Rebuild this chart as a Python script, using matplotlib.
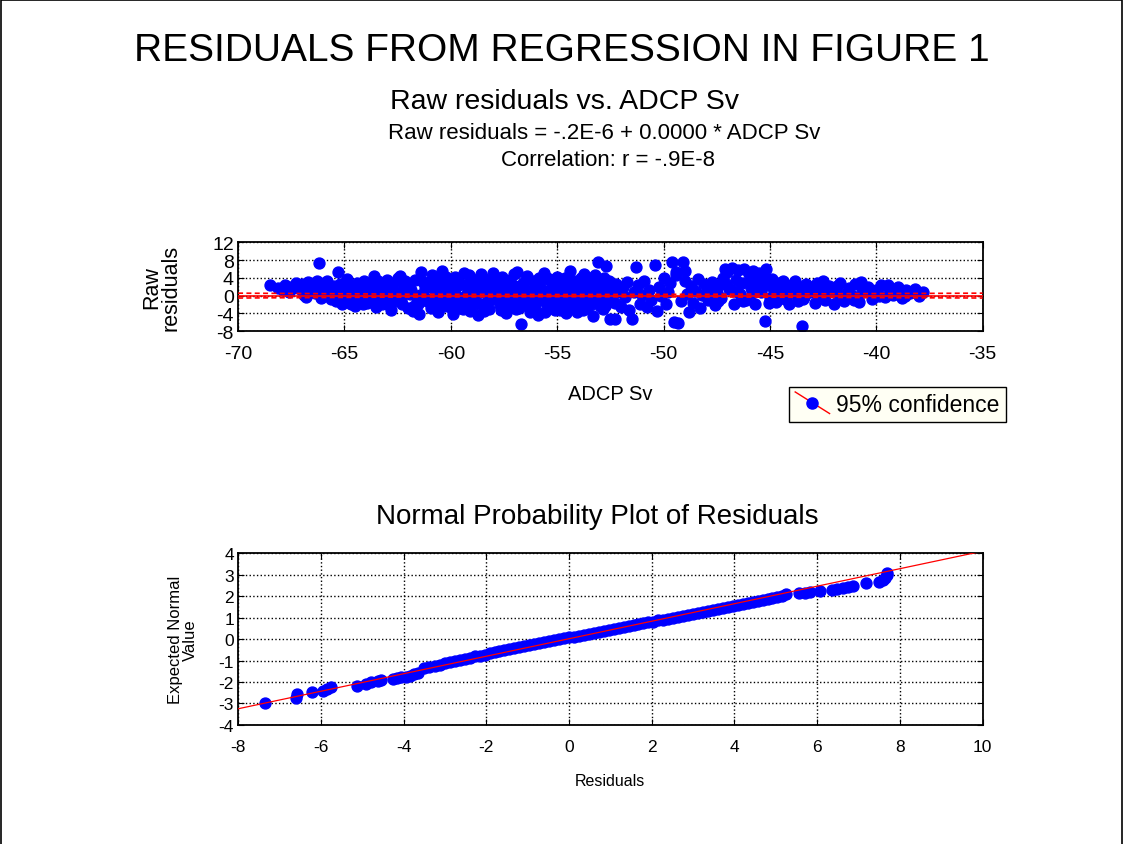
import matplotlib
matplotlib.use('Agg')
import matplotlib.pyplot as plt
from matplotlib.lines import Line2D
from matplotlib.legend_handler import HandlerBase

plt.rcParams['font.family'] = ['Liberation Sans', 'DejaVu Sans']
plt.rcParams['axes.unicode_minus'] = False

# Raw residuals vs. ADCP Sv
sv = [-68.5, -68.1, -67.8, -67.6, -67.3, -67.1, -66.9, -66.7, -66.5, -66.3, -66.2, -66.1, -66.0, -66.4, -66.8, -67.4,
      -65.8, -65.6, -65.4, -65.3, -65.2, -65.0, -64.9, -64.7, -64.6, -64.4, -64.3, -64.1, -65.7, -65.1, -64.8, -64.5, -64.2, -65.5, -64.0, -64.9,
      -63.8, -63.6, -63.5, -63.3, -63.1, -63.0, -62.8, -62.7, -62.5, -62.3, -62.2, -62.0, -61.9, -61.7, -61.5, -61.4, -61.2, -61.1,
      -63.7, -63.2, -62.9, -62.6, -62.1, -61.8, -61.3, -63.4, -62.4, -61.6,
      -60.9, -60.8, -60.7, -60.6, -60.5, -60.4, -60.3, -60.2, -60.1, -60.0, -59.9, -59.8, -59.7, -59.6, -59.5, -59.4,
      -59.3, -59.2, -59.1, -59.0, -58.9, -58.8, -58.7, -58.6, -58.5, -58.4, -58.3, -58.2, -58.1, -58.0, -57.9, -57.8,
      -57.7, -57.6, -57.5, -57.4, -57.3, -57.2, -57.1, -57.0, -56.9, -56.8, -56.7, -56.6, -56.5, -56.4, -56.3, -56.2,
      -56.1, -56.0, -55.9, -55.8, -55.7, -55.6, -55.5, -55.4, -55.3, -55.2, -55.1, -55.0, -54.9, -54.8, -54.7, -54.6,
      -54.5, -54.4, -54.3, -54.2, -54.1, -54.0, -53.9, -53.8, -53.7, -53.6, -53.5, -53.4, -53.3, -53.2, -53.1, -53.0,
      -52.9, -52.8, -52.7, -52.6, -52.5, -52.4, -52.3, -52.2,
      -60.85, -60.65, -60.35, -60.05, -59.75, -59.45, -59.15, -58.85, -58.55, -58.25, -57.95, -57.65, -57.35, -57.05,
      -56.75, -56.45, -56.15, -55.85, -55.55, -55.25, -54.95, -54.65, -54.35, -54.05, -53.75, -53.45, -53.15, -52.85,
      -52.55, -60.55, -59.85, -59.25, -58.45, -57.75, -57.15, -56.55, -55.95, -55.35, -54.75, -54.15, -53.55, -52.95,
      -65.9, -65.65, -65.35, -65.05, -64.75, -64.45, -64.15, -63.85, -63.55, -63.25, -62.95, -62.65, -62.35, -62.05,
      -61.75, -61.45, -61.15, -60.95, -60.75, -60.45, -60.15, -59.95, -59.65, -59.35, -59.05, -58.75, -58.35, -58.05,
      -57.85, -57.55, -57.25, -56.95, -56.65, -56.35, -56.05, -55.75, -55.45, -55.15, -54.85, -54.55, -54.25, -53.95,
      -53.65, -53.35, -53.05, -52.75, -52.45,
      -63.95, -63.65, -63.35, -63.05, -62.75, -62.45, -62.15, -61.85, -61.55, -61.25, -60.98, -60.72, -60.48, -60.22,
      -59.98, -59.72, -59.48, -59.22, -58.98, -58.72, -58.48, -58.22, -57.98, -57.72, -57.48, -57.22, -56.98, -56.72,
      -56.48, -56.22, -55.98, -55.72, -55.48, -55.22, -54.98, -54.72, -54.48, -54.22, -53.98, -53.72, -53.48, -53.22,
      -52.98, -52.72, -52.48, -52.22,
      -67.9, -67.5, -67.0, -66.6, -66.25, -65.95, -65.45, -64.85, -64.35,
      -52.0, -51.9, -51.8, -51.7, -51.6, -51.5, -51.4, -51.3, -51.2, -51.1, -51.0, -50.9, -50.8, -50.7, -50.6, -50.4,
      -50.3, -50.2, -50.1, -50.0, -49.9, -49.8, -49.7, -49.6, -49.5, -49.4, -49.3, -49.2, -49.1, -49.0, -48.9, -48.8,
      -48.7, -48.6, -48.5, -48.4, -48.3, -48.2, -48.1, -52.3, -49.4, -49.0,
      -47.9, -47.8, -47.7, -47.6, -47.5, -47.4, -47.3, -47.1, -47.0, -46.9, -46.8, -46.7, -46.6, -46.5, -46.4, -46.3,
      -46.2, -46.1, -46.0, -45.9, -45.8, -45.7, -45.6, -45.5, -45.4, -45.25, -45.2, -45.1, -45.0, -44.9, -44.8, -44.7,
      -44.6, -44.5, -44.4, -44.3, -44.2, -44.1, -44.0, -47.2, -46.0, -45.3,
      -47.85, -47.45, -47.05, -46.65, -46.25, -45.85, -45.45, -45.05, -44.65, -44.25,
      -43.9, -43.8, -43.7, -43.6, -43.5, -43.4, -43.3, -43.1, -42.9, -42.7, -42.5, -42.4, -42.2, -42.0, -41.9, -41.7,
      -41.5, -41.3, -41.1, -41.0, -40.8, -40.6, -40.4, -40.2, -40.0, -39.8, -39.6, -39.4, -39.2, -39.0, -38.8, -38.6,
      -38.4, -38.2, -38.0, -37.8, -42.8, -41.6, -40.7, -39.9,
      -43.85, -43.45, -43.05, -42.65, -42.25, -41.85, -41.45, -41.05, -40.65, -40.25, -39.85, -39.45, -39.05, -38.65,
      -38.25]
raw_resid = [2.5, 1.6, 2.3, 0.9, 2.8, 1.4, 0.2, 3.1, 1.9, 3.4, 7.4, -0.6, 2.2, 0.6, -0.3, 1.8,
             3.3, 1.0, -1.2, 5.3, 2.6, 0.3, 3.7, -1.8, 1.7, 2.9, -0.7, 3.2, -0.2, -2.0, 0.9, -2.4, 1.3, 2.1, -1.5, 2.0,
             0.6, 4.4, -2.6, 2.2, -0.8, 3.5, -3.2, 1.1, 3.9, -1.9, 2.5, -2.9, 0.4, 3.6, -4.2, 5.3, 1.6, -1.3,
             -1.2, 1.0, -2.1, -0.2, 0.9, -3.5, 3.0, 3.3, 4.4, -0.5,
             4.6, -1.5, 2.1, -3.8, 0.4, 5.5, -2.4, 3.1, -0.9, 1.8, -4.1, 4.2, 0.0, -2.8, 2.7, 5.2,
             -1.2, 1.0, -3.4, 3.8, -0.3, 2.2, -4.4, 4.9, 0.8, -1.9, 3.3, -3.0, 1.5, 5.0, -0.7, 2.6,
             -2.2, 4.1, 0.2, -3.9, 1.9, 3.6, -1.4, 0.7, 5.4, -2.7, -6.4, 2.9, -0.4, 4.5, -3.6, 1.2,
             3.2, -1.0, -4.3, 2.4, 0.5, 5.1, -2.0, 3.7, -0.6, 1.7, -3.2, 4.3, 0.1, -1.7, 2.8, -4.0,
             1.4, 5.6, -0.8, 3.4, -2.5, 0.9, 4.0, -3.3, 2.0, -1.1, 3.0, 0.3, -4.6, 4.7, 7.6, -2.3,
             1.6, 3.9, 6.6, -0.5, -5.3, 2.3, -1.6, 0.8,
             -0.5, 3.6, 1.2, -2.6, 2.0, -3.1, 4.6, -2.0, 2.9, 0.0, 3.7, -3.3, -0.2, 4.8,
             0.9, -2.2, -0.2, 4.0, -3.7, 2.6, -2.8, 3.9, 1.9, -3.6, 4.9, -2.1, 1.0, -3.0,
             3.4, -1.1, 0.8, 2.4, -3.5, 1.0, -2.6, 1.5, 2.2, -1.4, 0.6, -1.3, 1.3, -1.2,
             1.5, -0.8, 0.4, 2.4, -1.0, 1.1, -2.0, 2.6, 1.4, -1.8, 0.2, 2.9, -0.9, 1.7,
             -2.3, 0.1, 2.8, -2.9, 0.9, 3.5, -0.2, -1.7, 2.3, -0.6, 0.8, 3.4, -2.6, 2.4,
             0.4, -1.0, 2.8, -3.0, 1.8, 0.3, -2.6, -0.1, 1.1, 3.0, -3.3, -0.4, 2.6, -0.7,
             -2.8, 2.2, 0.6, -2.4, 1.2,
             -1.6, 2.7, -0.4, 1.3, -1.4, 0.6, 3.3, 1.2, -1.9, -0.3, 2.6, -2.7, 1.6, 4.1,
             -1.4, 3.2, -2.2, 0.4, 2.0, -1.6, 4.0, -0.8, 1.1, 3.1, -2.5, 0.0, 2.2, -1.2,
             3.5, -2.9, 1.5, -0.9, 3.9, -2.5, 2.3, -0.1, -2.6, 0.4, 1.8, -1.8, 3.9, -0.6,
             2.6, -2.0, 0.3, 2.7,
             1.2, 2.0, 2.6, 1.3, 0.9, 2.8, 0.6, 2.5, -0.9,
             -2.6, 1.9, -0.4, 3.0, -3.2, -5.3, 0.9, 6.4, 2.4, -1.8, 0.2, 3.4, -2.5, 1.3, -0.9, 7.0,
             -3.4, 2.0, -0.2, 4.0, -2.0, 0.8, 2.9, 7.5, -6.0, 5.3, -6.2, -1.2, 7.6, 3.3, 0.4, -3.6,
             2.2, -1.6, 1.0, 3.8, -2.8, 0.1, 2.6, -5.3, 4.6, 5.6,
             -1.0, 1.9, 3.1, -2.2, 0.6, 2.4, -0.5, 6.0, 5.4, 1.5, 6.3, -1.8, 3.6, 5.8, 0.3, 2.8,
             6.1, -0.9, 4.8, 1.8, 5.6, -2.0, 3.3, 5.0, 0.9, -5.7, 5.9, 2.4, -0.6, 3.7, 1.1, -1.4,
             2.9, 0.4, 3.3, -0.8, 1.7, -1.9, 2.5, 3.9, 3.1, 4.2,
             0.9, -1.2, 2.6, 1.0, -1.3, 0.5, 2.0, -1.6, 1.8, 0.3,
             0.6, 3.4, -1.2, 1.9, -6.9, -0.3, 2.7, 0.9, -1.6, 1.4, 3.3, -0.9, 2.2, -1.9, 0.5, 2.8,
             -1.2, 1.6, -0.2, 2.6, -1.5, 0.9, 2.0, -0.8, 1.3, 2.4, -0.4, 1.7, 0.2, 1.9, -0.6, 1.2,
             0.5, 1.5, 0.0, 0.8, 2.9, -0.6, 3.0, 0.4,
             2.2, -0.7, 2.0, -0.4, 0.8, 2.1, 0.3, -0.9, 1.8, 0.6, -0.2, 2.4, 0.7, -0.2,
             0.9]

# regression line and 95% confidence band
fit_sv = [-70, -35]
fit_resid = [0.0, 0.0]
band_sv = [-70, -62, -55, -48, -35]
band_upper = [0.55, 0.32, 0.25, 0.30, 0.55]
band_lower = [-0.55, -0.32, -0.25, -0.30, -0.55]

# Normal probability plot (residual, expected normal value)
npp_resid = [-7.35, -6.60, -6.58, -6.22, -5.95, -5.85, -5.75, -5.13, -4.90, -4.78, -4.62, -4.55, -4.25, -4.15,
             -4.05, -3.95, -3.85, -3.75, -3.65,
             -3.50, -3.38, -3.25, -3.12, -3.00, -2.88, -2.76, -2.64, -2.52, -2.40, -2.28, -2.16, -2.04, -1.92,
             -1.80, -1.68, -1.56, -1.44, -1.32, -1.20, -1.08, -0.96, -0.84, -0.72, -0.60, -0.48, -0.36, -0.24,
             -0.12, 0.00, 0.12, 0.24, 0.36, 0.48, 0.60, 0.72, 0.84, 0.96, 1.08, 1.20, 1.32, 1.44, 1.56, 1.68,
             1.80, 1.92, 2.04, 2.16, 2.28, 2.40, 2.52, 2.64, 2.76, 2.88, 3.00, 3.12, 3.24, 3.36, 3.48, 3.60,
             3.72, 3.84, 3.96, 4.08, 4.20, 4.32, 4.44, 4.56, 4.68, 4.80, 4.92, 5.04, 5.16,
             5.25, 5.57, 5.70, 5.82, 6.06, 6.37, 6.48, 6.62, 6.75, 6.86, 7.19, 7.50, 7.58, 7.64, 7.68, 7.70]
npp_expected = [-3.00, -2.75, -2.58, -2.47, -2.40, -2.32, -2.24, -2.17, -2.08, -2.01, -1.95, -1.90, -1.86, -1.82,
                -1.79, -1.75, -1.71, -1.62, -1.57,
                -1.36, -1.30, -1.24, -1.19, -1.13, -1.08, -1.02, -0.97, -0.91, -0.86, -0.81, -0.77, -0.72, -0.67,
                -0.62, -0.57, -0.52, -0.47, -0.42, -0.37, -0.33, -0.28, -0.23, -0.18, -0.14, -0.09, -0.05, 0.00,
                0.04, 0.08, 0.12, 0.16, 0.20, 0.25, 0.29, 0.34, 0.38, 0.43, 0.47, 0.52, 0.56, 0.60, 0.64, 0.69,
                0.73, 0.78, 0.82, 0.87, 0.91, 0.96, 0.99, 1.04, 1.08, 1.13, 1.17, 1.22, 1.26, 1.31, 1.35, 1.40,
                1.43, 1.48, 1.53, 1.57, 1.62, 1.66, 1.71, 1.76, 1.81, 1.86, 1.92, 1.98, 2.03,
                2.09, 2.14, 2.17, 2.19, 2.25, 2.30, 2.34, 2.38, 2.42, 2.47, 2.63, 2.68, 2.76, 2.87, 3.00, 3.10]
npp_line_x = [-8, 10]
npp_line_y = [-3.25, 4.10]


class DiagonalHandle(HandlerBase):
    # red line drawn corner to corner with the blue dot on it, as in the original legend
    def create_artists(self, legend, orig_handle, xdescent, ydescent, width, height, fontsize, trans):
        x0, x1 = -xdescent, width - xdescent
        y0, y1 = height - ydescent + 2, -ydescent - 2
        line = Line2D([x0, x1], [y0, y1], color='red', lw=1, transform=trans)
        dot = Line2D([(x0 + x1) / 2], [(y0 + y1) / 2], marker='o', ms=8, color='#0000ff',
                     ls='none', transform=trans)
        return [line, dot]


fig = plt.figure(figsize=(11.23, 8.45), dpi=100)

fig.text(0.5, 0.940, 'RESIDUALS FROM REGRESSION IN FIGURE 1', ha='center', va='center', fontsize=28)
fig.text(0.503, 0.879, 'Raw residuals vs. ADCP Sv', ha='center', va='center', fontsize=20.5)
fig.text(0.538, 0.842, 'Raw residuals = -.2E-6 + 0.0000 * ADCP Sv', ha='center', va='center', fontsize=16)
fig.text(0.541, 0.810, 'Correlation: r = -.9E-8', ha='center', va='center', fontsize=16)

# top panel
ax1 = fig.add_axes([0.212, 0.607, 0.663, 0.105])
ax1.scatter(sv, raw_resid, s=62, color='#0000ff', zorder=2)
ax1.plot(fit_sv, fit_resid, color='red', lw=1.2, zorder=3)
ax1.plot(band_sv, band_upper, color='red', lw=1.2, ls=(0, (3, 2)), zorder=3)
ax1.plot(band_sv, band_lower, color='red', lw=1.2, ls=(0, (3, 2)), zorder=3)
ax1.set_xlim(-70, -35)
ax1.set_ylim(-8, 12)
ax1.set_xticks([-70, -65, -60, -55, -50, -45, -40, -35])
ax1.set_yticks([-8, -4, 0, 4, 8, 12])
ax1.grid(True, color='black', ls=':', lw=1)
ax1.tick_params(labelsize=14, direction='in', top=True, right=True, length=4)
ax1.tick_params(axis='x', pad=10)
ax1.tick_params(axis='y', pad=3)
ax1.set_xlabel('ADCP Sv', fontsize=14.5, labelpad=16)
ax1.set_ylabel('Raw\nresiduals', fontsize=15.5, labelpad=22, linespacing=0.9)
for sp in ax1.spines.values():
    sp.set_linewidth(1.3)

handle = Line2D([0], [0], color='red')
leg = fig.legend([handle], ['95% confidence'], loc='lower left',
                 bbox_to_anchor=(0.703, 0.500), fontsize=16.5, fancybox=False,
                 framealpha=1, edgecolor='black', handlelength=1.5,
                 borderpad=0.25, handletextpad=0.3, borderaxespad=0,
                 handler_map={handle: DiagonalHandle()})
leg.get_frame().set_facecolor('#fffff4')
leg.get_frame().set_linewidth(1)

# bottom panel
fig.text(0.532, 0.388, 'Normal Probability Plot of Residuals', ha='center', va='center', fontsize=20)
ax2 = fig.add_axes([0.212, 0.141, 0.663, 0.203])
ax2.scatter(npp_resid, npp_expected, s=62, color='#0000ff', zorder=2)
ax2.plot(npp_line_x, npp_line_y, color='red', lw=0.9, zorder=3)
ax2.set_xlim(-8, 10)
ax2.set_ylim(-4, 4)
ax2.set_xticks(range(-8, 11, 2))
ax2.set_yticks(range(-4, 5))
ax2.grid(True, color='black', ls=':', lw=1)
ax2.tick_params(labelsize=12.5, direction='in', top=True, right=True, length=4)
ax2.tick_params(axis='x', pad=10)
ax2.tick_params(axis='y', pad=3)
ax2.set_xlabel('Residuals', fontsize=11.5, labelpad=14)
ax2.set_ylabel('Expected Normal\nValue', fontsize=12, labelpad=15, linespacing=0.95)
for sp in ax2.spines.values():
    sp.set_linewidth(1.3)

# outer frame (left, top, right)
fig.add_artist(Line2D([0.001, 0.001, 0.999, 0.999], [0.0, 0.999, 0.999, 0.0],
                      transform=fig.transFigure, color='black', lw=1.2))

fig.savefig('out.png', dpi=100)
